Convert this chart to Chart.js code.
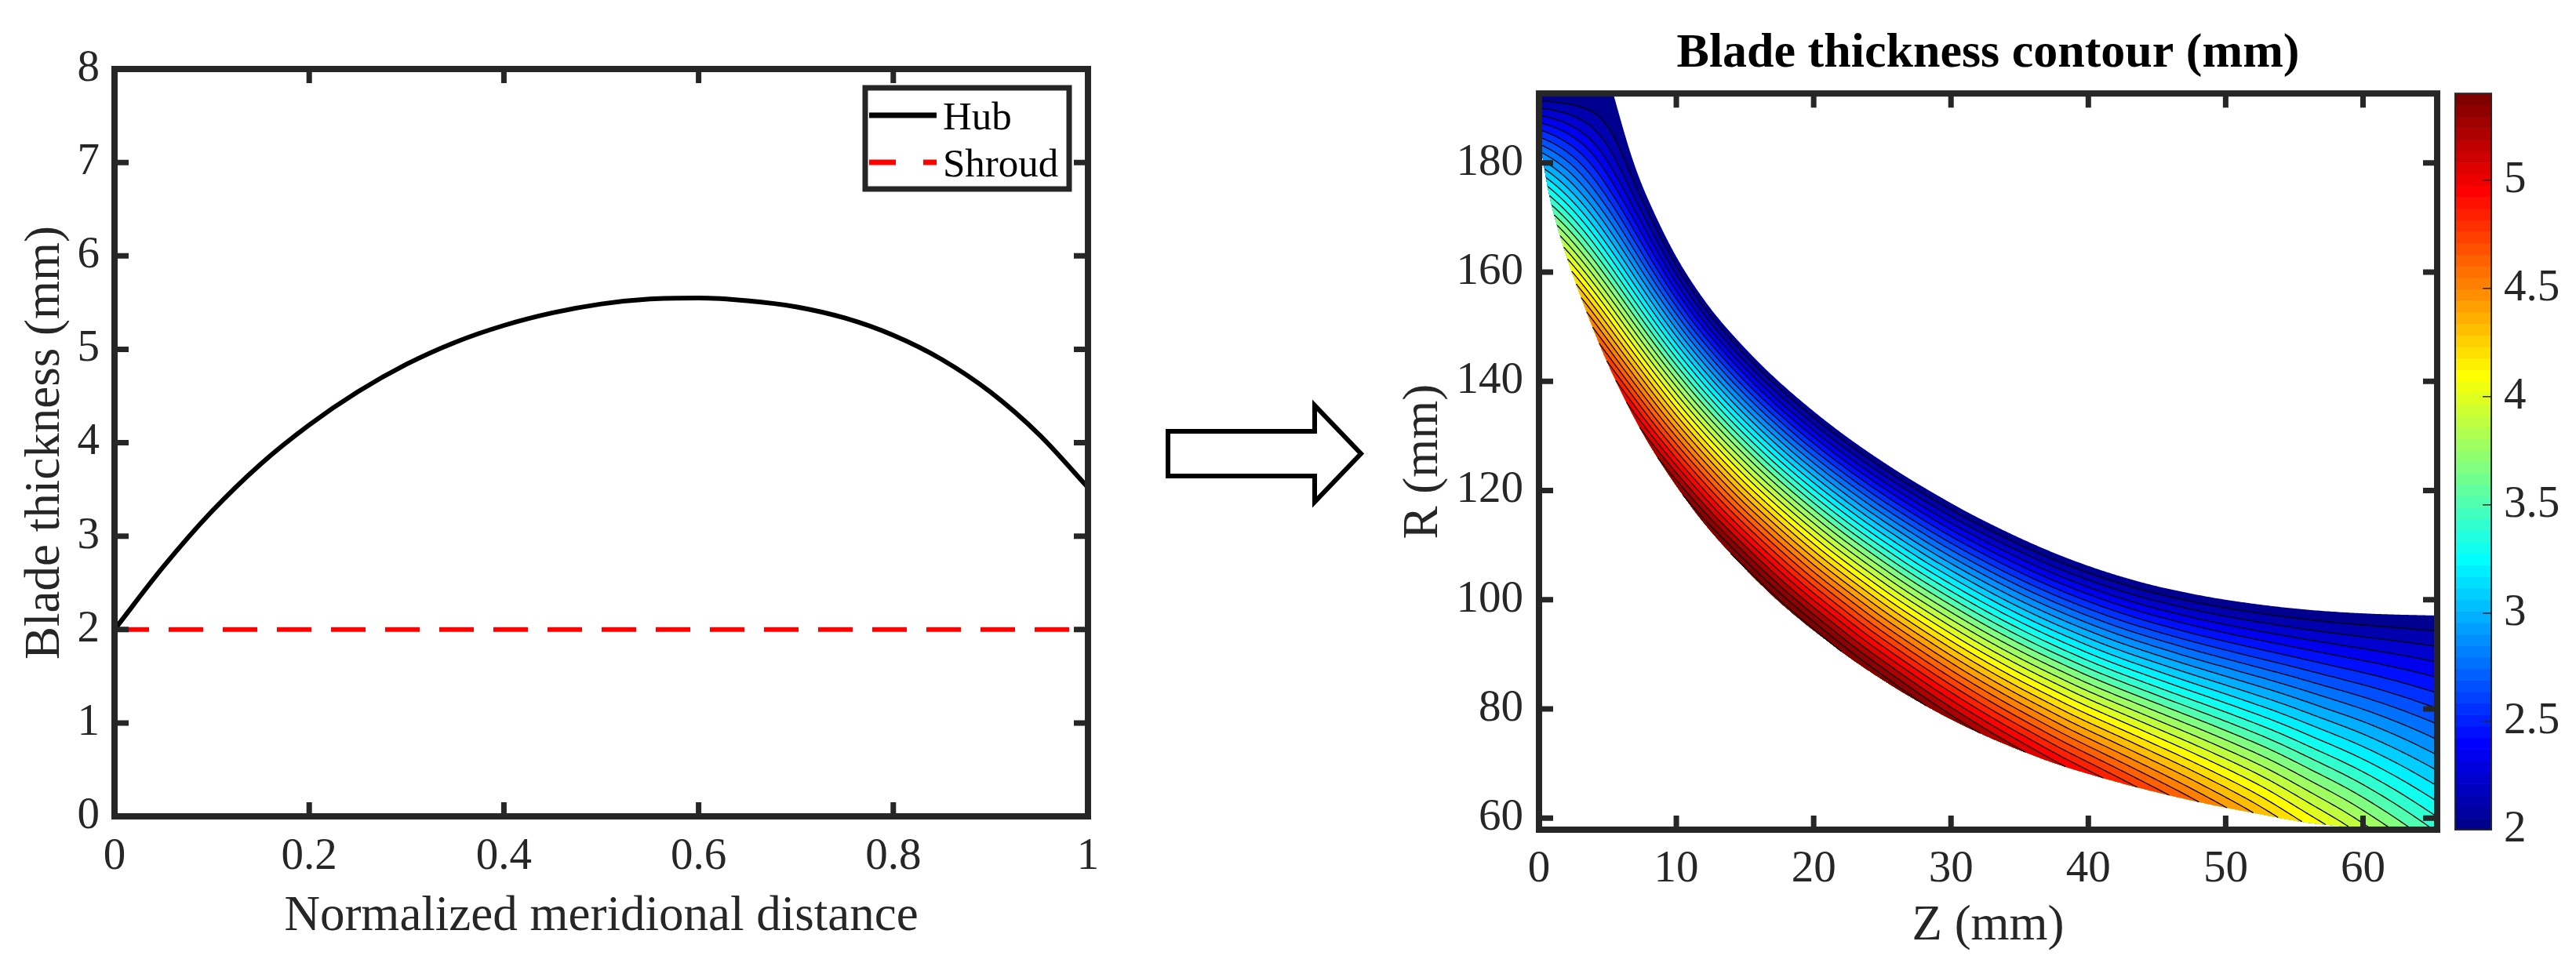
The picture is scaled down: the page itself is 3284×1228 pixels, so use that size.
<!DOCTYPE html>
<html>
<head>
<meta charset="utf-8">
<script src="https://cdn.jsdelivr.net/npm/chart.js@4.4.1/dist/chart.umd.min.js"></script>
<style>
  html, body { margin: 0; padding: 0; background: #fff; }
  #page { position: relative; width: 3284px; height: 1228px; overflow: hidden; background: #fff; }
  #leftBox { position: absolute; left: 0; top: 0; }
  #rightBox { position: absolute; left: 1750px; top: 0; }
  #arrow { position: absolute; left: 0; top: 0; pointer-events: none; }
</style>
</head>
<body>
<div id="page">
  <div id="leftBox"><canvas id="thicknessChart" width="1450" height="1228"></canvas></div>
  <svg id="arrow" width="3284" height="1228">
    <polygon points="1489,550 1676,550 1676,517 1735,578.5 1676,640 1676,607 1489,607"
             fill="#fff" stroke="#000" stroke-width="6" stroke-linejoin="miter"/>
  </svg>
  <div id="rightBox"><canvas id="contourChart" width="1534" height="1228"></canvas></div>
</div>
<script>
// left panel: thickness along the normalized meridional distance
const meridional = [0, 0.05, 0.1, 0.15, 0.2, 0.25, 0.3, 0.35, 0.4, 0.45, 0.5,
                    0.55, 0.6, 0.65, 0.7, 0.75, 0.8, 0.85, 0.9, 0.95, 1];
const hubThickness = [2.00, 2.67, 3.265, 3.77, 4.19, 4.545, 4.84, 5.075, 5.255, 5.39, 5.485,
                      5.538, 5.549, 5.52, 5.455, 5.335, 5.15, 4.89, 4.54, 4.085, 3.52];
const shroudThickness = [2, 2, 2, 2, 2, 2, 2, 2, 2, 2, 2, 2, 2, 2, 2, 2, 2, 2, 2, 2, 2];
const distanceTicks = [0, 0.2, 0.4, 0.6, 0.8, 1];
const thicknessTicks = [0, 1, 2, 3, 4, 5, 6, 7, 8];

// right panel: meridional outline of the blade (mm), outlet at top, inlet at right
const hubZ = [0, 0, 0, 0.3, 0.9, 2.0, 3.5, 5.3, 7.7, 10.5, 13.3, 17.3, 21.5, 25, 28.6,
              32, 35.3, 38.5, 43.2, 48, 52, 56, 60, 63, 65.4];
const hubR = [192.7, 189.5, 186, 180.5, 172.5, 163, 152.5, 141.7, 129.9, 119.1, 110.3, 100.1, 91.5, 85.4, 80.0,
              75.7, 72.2, 69.3, 65.9, 63.0, 61.0, 59.2, 58.3, 57.98, 57.9];
const shroudZ = [5.4, 6.7, 8.0, 10, 12.2, 14.5, 17.1, 20, 22.7, 25.5, 28, 31, 34, 37, 40, 43, 46, 50, 55, 60, 65.4];
const shroudR = [192.7, 181.5, 173.0, 162.8, 154.3, 147.4, 140.8, 134.5, 129.3, 124.5, 120.6, 116.3, 112.5,
                 109.1, 106.2, 103.8, 101.9, 100.0, 98.4, 97.5, 97.1];
const zTicks = [0, 10, 20, 30, 40, 50, 60];
const rTicks = [60, 80, 100, 120, 140, 160, 180];
const colorbarTicks = [2, 2.5, 3, 3.5, 4, 4.5, 5];
const colorbarRange = [2, 5.40];
const contourLevels = [2.11, 2.22, 2.33, 2.44, 2.55, 2.66, 2.77, 2.88, 2.99, 3.10, 3.21, 3.32, 3.43,
                       3.54, 3.65, 3.76, 3.87, 3.98, 4.09, 4.20, 4.31, 4.42, 4.53, 4.64, 4.75, 4.86,
                       4.97, 5.08, 5.19, 5.30, 5.41, 5.52];

const SERIF = '"Liberation Serif", "Times New Roman", Times, serif';
const AXIS = '#262626';
Chart.defaults.font.family = SERIF;
Chart.defaults.color = AXIS;

const fmt = v => String(Math.round(v * 100) / 100);
const setTicks = list => scale => { scale.ticks = list.map(v => ({ value: v })); };

// MATLAB jet(64)
function jetColor(i) {
  const u = k => (k < 1 || k > 47) ? 0 : k <= 16 ? k / 16 : k <= 31 ? 1 : (48 - k) / 16;
  const c = [u(i + 1 - 24), u(i + 1 - 8), u(i + 1 + 8)].map(v => Math.round(v * 255));
  return `rgb(${c[0]},${c[1]},${c[2]})`;
}
function colorIndex(v) {
  const [lo, hi] = colorbarRange;
  return Math.max(0, Math.min(63, Math.floor((v - lo) / (hi - lo) * 64)));
}

// curve helpers
function catmull(zs, rs, per) {
  const n = zs.length, pts = [];
  for (let i = 0; i < n - 1; i++) {
    const a = Math.max(i - 1, 0), d = Math.min(i + 2, n - 1);
    const p0 = [zs[a], rs[a]], p1 = [zs[i], rs[i]], p2 = [zs[i + 1], rs[i + 1]], p3 = [zs[d], rs[d]];
    for (let k = 0; k < per; k++) {
      const t = k / per, t2 = t * t, t3 = t2 * t;
      pts.push([0, 1].map(j => 0.5 * (2 * p1[j] + (p2[j] - p0[j]) * t +
        (2 * p0[j] - 5 * p1[j] + 4 * p2[j] - p3[j]) * t2 + (3 * p1[j] - p0[j] - 3 * p2[j] + p3[j]) * t3)));
    }
  }
  pts.push([zs[n - 1], rs[n - 1]]);
  return pts;
}
function byLength(pts, N) {
  const cum = [0];
  for (let i = 1; i < pts.length; i++)
    cum.push(cum[i - 1] + Math.hypot(pts[i][0] - pts[i - 1][0], pts[i][1] - pts[i - 1][1]));
  const L = cum[cum.length - 1], out = [];
  let j = 0;
  for (let k = 0; k <= N; k++) {
    const s = L * k / N;
    while (j < cum.length - 2 && cum[j + 1] < s) j++;
    const f = (s - cum[j]) / ((cum[j + 1] - cum[j]) || 1);
    out.push([pts[j][0] + f * (pts[j + 1][0] - pts[j][0]), pts[j][1] + f * (pts[j + 1][1] - pts[j][1])]);
  }
  return out;
}
function smoothAt(xs, ys, x) {
  let i = 0;
  while (i < xs.length - 2 && xs[i + 1] < x) i++;
  const n = xs.length;
  const slope = k => k === 0 ? (ys[1] - ys[0]) / (xs[1] - xs[0])
    : k === n - 1 ? (ys[k] - ys[k - 1]) / (xs[k] - xs[k - 1])
    : (ys[k + 1] - ys[k - 1]) / (xs[k + 1] - xs[k - 1]);
  const h = xs[i + 1] - xs[i], t = (x - xs[i]) / h, t2 = t * t, t3 = t2 * t;
  return (2 * t3 - 3 * t2 + 1) * ys[i] + (t3 - 2 * t2 + t) * slope(i) * h +
         (3 * t2 - 2 * t3) * ys[i + 1] + (t3 - t2) * slope(i + 1) * h;
}

// box + inward ticks like MATLAB axes
const matlabAxes = {
  id: 'matlabAxes',
  afterDatasetsDraw(chart) {
    const { ctx, chartArea: a, scales: { x, y } } = chart;
    ctx.save();
    ctx.strokeStyle = AXIS;
    ctx.lineWidth = 7;
    ctx.beginPath();
    x.ticks.forEach(t => {
      const p = x.getPixelForValue(t.value);
      ctx.moveTo(p, a.bottom); ctx.lineTo(p, a.bottom - 18);
      ctx.moveTo(p, a.top); ctx.lineTo(p, a.top + 18);
    });
    y.ticks.forEach(t => {
      const p = y.getPixelForValue(t.value);
      ctx.moveTo(a.left, p); ctx.lineTo(a.left + 18, p);
      ctx.moveTo(a.right, p); ctx.lineTo(a.right - 18, p);
    });
    ctx.stroke();
    ctx.lineWidth = 8;
    ctx.strokeRect(a.left, a.top, a.right - a.left, a.bottom - a.top);
    ctx.restore();
  }
};

const legendDash = [34, 35];
const legendBox = {
  id: 'legendBox',
  afterDraw(chart) {
    const ctx = chart.ctx;
    ctx.save();
    ctx.fillStyle = '#fff';
    ctx.fillRect(1103, 112, 260, 129);
    ctx.strokeStyle = AXIS;
    ctx.lineWidth = 7;
    ctx.strokeRect(1103, 112, 260, 129);
    ctx.font = '51px ' + SERIF;
    ctx.textBaseline = 'alphabetic';
    chart.data.datasets.forEach((ds, i) => {
      const yy = 147 + i * 60;
      ctx.strokeStyle = ds.borderColor;
      ctx.lineWidth = ds.borderWidth + 1;
      ctx.setLineDash(ds.borderDash ? legendDash : []);
      ctx.beginPath(); ctx.moveTo(1108, yy); ctx.lineTo(1194, yy); ctx.stroke();
      ctx.setLineDash([]);
      ctx.fillStyle = '#000';
      ctx.fillText(ds.label, 1202, yy + 18);
    });
    ctx.restore();
  }
};

// filled contour of thickness between hub and shroud
const contourPlugin = {
  id: 'bladeContour',
  beforeDatasetsDraw(chart) {
    const { ctx, chartArea: a, scales: { x, y } } = chart;
    const [hubSet, shroudSet] = chart.data.datasets;
    const N = 800;
    const hub = byLength(catmull(hubSet.data.map(p => p.x), hubSet.data.map(p => p.y), 16), N);
    const shr = byLength(catmull(shroudSet.data.map(p => p.x), shroudSet.data.map(p => p.y), 16), N);
    const tHub = hub.map((_, k) => smoothAt(meridional, hubThickness, k / N));
    const tShr = hub.map((_, k) => smoothAt(meridional, shroudThickness, k / N));
    const at = (k, s) => [hub[k][0] + (shr[k][0] - hub[k][0]) * s, hub[k][1] + (shr[k][1] - hub[k][1]) * s];
    const lerp = (p, q, f) => [p[0] + (q[0] - p[0]) * f, p[1] + (q[1] - p[1]) * f];
    const path = pts => {
      ctx.beginPath();
      pts.forEach((p, i) => {
        const X = x.getPixelForValue(p[0]), Y = y.getPixelForValue(p[1]);
        i ? ctx.lineTo(X, Y) : ctx.moveTo(X, Y);
      });
    };
    ctx.save();
    ctx.beginPath();
    ctx.rect(a.left, a.top, a.right - a.left, a.bottom - a.top);
    ctx.clip();
    path(hub.concat(shr.slice().reverse()));
    ctx.closePath();
    ctx.fillStyle = jetColor(colorIndex(colorbarRange[0]));
    ctx.fill();
    const lines = [];
    contourLevels.forEach(L => {
      let k = 0;
      while (k <= N) {
        if (tHub[k] < L) { k++; continue; }
        const k0 = k;
        while (k <= N && tHub[k] >= L) k++;
        const k1 = k - 1;
        const edge = [], curve = [];
        if (k0 > 0) {
          const c = lerp(hub[k0 - 1], hub[k0], (L - tHub[k0 - 1]) / (tHub[k0] - tHub[k0 - 1]));
          edge.push(c); curve.push(c);
        }
        for (let i = k0; i <= k1; i++) {
          edge.push(hub[i]);
          curve.push(at(i, (tHub[i] - L) / (tHub[i] - tShr[i])));
        }
        if (k1 < N) {
          const c = lerp(hub[k1], hub[k1 + 1], (L - tHub[k1]) / (tHub[k1 + 1] - tHub[k1]));
          edge.push(c); curve.push(c);
        }
        path(edge.concat(curve.slice().reverse()));
        ctx.closePath();
        ctx.fillStyle = jetColor(colorIndex(L));
        ctx.fill();
        lines.push(curve);
      }
    });
    ctx.strokeStyle = '#000';
    ctx.lineWidth = 1.3;
    ctx.lineJoin = 'round';
    lines.forEach(c => { path(c); ctx.stroke(); });
    ctx.restore();
  }
};

const colorbarPlugin = {
  id: 'colorbar',
  afterDraw(chart) {
    const { ctx, chartArea: a } = chart;
    const cb = chart.scales.cb;
    const [lo, hi] = colorbarRange;
    const x0 = a.right + 23, w = 46;
    ctx.save();
    for (let i = 0; i < 64; i++) {
      const yA = cb.getPixelForValue(lo + (hi - lo) * i / 64);
      const yB = cb.getPixelForValue(lo + (hi - lo) * (i + 1) / 64);
      ctx.fillStyle = jetColor(i);
      ctx.fillRect(x0, yB, w, yA - yB + 0.6);
    }
    ctx.strokeStyle = AXIS;
    ctx.lineWidth = 2;
    ctx.strokeRect(x0, cb.getPixelForValue(hi), w, cb.getPixelForValue(lo) - cb.getPixelForValue(hi));
    ctx.lineWidth = 1.5;
    ctx.beginPath();
    cb.ticks.forEach(t => {
      const p = cb.getPixelForValue(t.value);
      ctx.moveTo(x0 + w, p); ctx.lineTo(x0 + w - 11, p);
    });
    ctx.stroke();
    ctx.restore();
  }
};

const tickFont = { family: SERIF, size: 57 };
const titleFont = { family: SERIF, size: 63 };

new Chart(document.getElementById('thicknessChart'), {
  type: 'line',
  data: {
    datasets: [
      {
        label: 'Hub',
        data: meridional.map((m, i) => ({ x: m, y: hubThickness[i] })),
        borderColor: '#000000',
        borderWidth: 6,
        pointRadius: 0,
        cubicInterpolationMode: 'monotone',
        fill: false
      },
      {
        label: 'Shroud',
        data: meridional.map((m, i) => ({ x: m, y: shroudThickness[i] })),
        borderColor: '#ff0000',
        borderWidth: 6,
        borderDash: [44, 25],
        pointRadius: 0,
        fill: false
      }
    ]
  },
  options: {
    responsive: false,
    animation: false,
    layout: { padding: { left: 0, top: 88, right: 63, bottom: 0 } },
    plugins: { legend: { display: false }, tooltip: { enabled: false } },
    scales: {
      x: {
        type: 'linear', min: 0, max: 1,
        afterBuildTicks: setTicks(distanceTicks),
        afterFit: s => { s.height = 187; },
        grid: { display: false, drawTicks: false },
        border: { display: false },
        ticks: { font: tickFont, color: AXIS, padding: 18, maxRotation: 0, autoSkip: false, callback: fmt },
        title: { display: true, text: 'Normalized meridional distance', font: titleFont, color: AXIS,
                 padding: { top: 0, bottom: 21 } }
      },
      y: {
        type: 'linear', min: 0, max: 8,
        afterBuildTicks: setTicks(thicknessTicks),
        afterFit: s => { s.width = 146; },
        grid: { display: false, drawTicks: false },
        border: { display: false },
        ticks: { font: tickFont, color: AXIS, padding: 19, autoSkip: false, callback: fmt },
        title: { display: true, text: 'Blade thickness (mm)', font: titleFont, color: AXIS,
                 padding: { top: 21, bottom: 0 } }
      }
    }
  },
  plugins: [matlabAxes, legendBox]
});

new Chart(document.getElementById('contourChart'), {
  type: 'scatter',
  data: {
    datasets: [
      { label: 'Hub', data: hubZ.map((z, i) => ({ x: z, y: hubR[i] })), showLine: false, pointRadius: 0 },
      { label: 'Shroud', data: shroudZ.map((z, i) => ({ x: z, y: shroudR[i] })), showLine: false, pointRadius: 0 }
    ]
  },
  options: {
    responsive: false,
    animation: false,
    layout: { padding: 0 },
    plugins: {
      legend: { display: false },
      tooltip: { enabled: false },
      title: {
        display: true, fullSize: false,
        text: 'Blade thickness contour (mm)',
        font: { family: SERIF, size: 62, weight: 'bold' },
        color: '#000',
        padding: { top: 15, bottom: 12.6 }
      }
    },
    scales: {
      x: {
        type: 'linear', min: 0, max: 65.4,
        afterBuildTicks: setTicks(zTicks),
        afterFit: s => { s.height = 170; },
        grid: { display: false, drawTicks: false },
        border: { display: false },
        ticks: { font: tickFont, color: AXIS, padding: 17, maxRotation: 0, autoSkip: false, callback: fmt },
        title: { display: true, text: 'Z (mm)', font: titleFont, color: AXIS, padding: { top: 0, bottom: 9 } }
      },
      y: {
        type: 'linear', min: 57.9, max: 192.7,
        afterBuildTicks: setTicks(rTicks),
        afterFit: s => { s.width = 212; },
        grid: { display: false, drawTicks: false },
        border: { display: false },
        ticks: { font: tickFont, color: AXIS, padding: 20, autoSkip: false, callback: fmt },
        title: { display: true, text: 'R (mm)', font: titleFont, color: AXIS, padding: { top: 28, bottom: 0 } }
      },
      cb: {
        type: 'linear', axis: 'y', position: 'right',
        min: colorbarRange[0], max: colorbarRange[1],
        afterBuildTicks: setTicks(colorbarTicks),
        afterFit: s => { s.width = 177; },
        grid: { display: false, drawTicks: false },
        border: { display: false },
        ticks: { font: tickFont, color: AXIS, padding: 85, autoSkip: false, callback: fmt }
      }
    }
  },
  plugins: [contourPlugin, matlabAxes, colorbarPlugin]
});
</script>
</body>
</html>
